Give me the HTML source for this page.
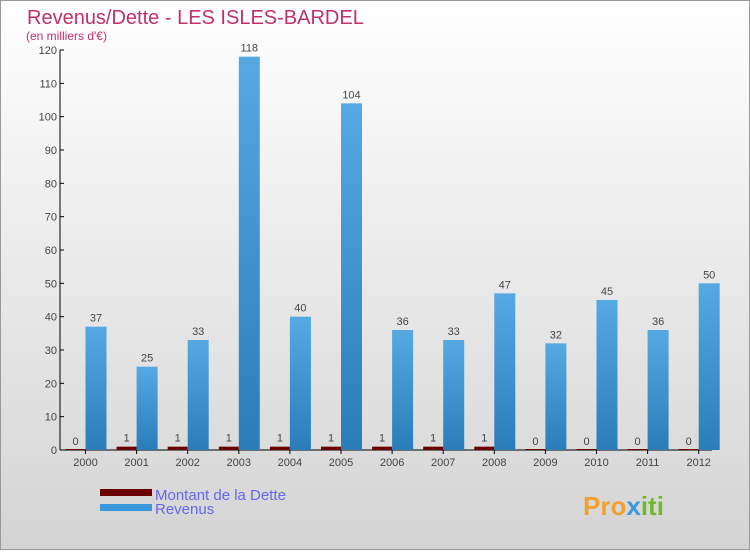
<!DOCTYPE html>
<html><head><meta charset="utf-8"><style>
body{margin:0}
#c{width:750px;height:550px;position:relative;font-family:"Liberation Sans",sans-serif}
</style></head><body>
<div id="c">
<svg id="s" width="750" height="550" xmlns="http://www.w3.org/2000/svg">
<defs>
<linearGradient id="bg" x1="0" y1="0" x2="0" y2="1"><stop offset="0" stop-color="#ffffff"/><stop offset="1" stop-color="#d4d4d4"/></linearGradient>
<linearGradient id="bl" x1="0" y1="0" x2="0" y2="1"><stop offset="0" stop-color="#56a9e3"/><stop offset="1" stop-color="#2a7db8"/></linearGradient>
</defs>
<rect x="0.5" y="0.5" width="749" height="549" fill="url(#bg)" stroke="#999"/>
<text x="27" y="24" font-size="20" fill="#c0306a">Revenus/Dette - LES ISLES-BARDEL</text>
<text x="26" y="40" font-size="12" fill="#c0306a">(en milliers d'€)</text>
<g id="g"></g>
<rect x="100" y="489" width="52" height="7" fill="#6b0000"/>
<rect x="100" y="504" width="52" height="7" fill="#3a98dc"/>
<text x="155" y="500" font-size="15" fill="#6666ee">Montant de la Dette</text>
<text x="155" y="514" font-size="15" fill="#6666ee">Revenus</text>
<text x="583" y="515" font-size="26" font-weight="bold" fill="#f0a030">Pro<tspan fill="#3a98dc">x</tspan><tspan fill="#70b830">iti</tspan></text>
</svg></div>
<script>
const years=["2000","2001","2002","2003","2004","2005","2006","2007","2008","2009","2010","2011","2012"];
const dette=[0,1,1,1,1,1,1,1,1,0,0,0,0];
const revenus=[37,25,33,118,40,104,36,33,47,32,45,36,50];
const yTicks=[0,10,20,30,40,50,60,70,80,90,100,110,120];
const NS="http://www.w3.org/2000/svg";
const g=document.getElementById('g');
const y=v=>450-v*400/120;
const x=i=>85.5+i*51.1;
function mk(t,a){const e=document.createElementNS(NS,t);for(const k in a)e.setAttribute(k,a[k]);g.appendChild(e);return e;}
let ax=mk('line',{x1:60,y1:50,x2:60,y2:450,stroke:'#000'});


let bx=mk('line',{x1:60,y1:450,x2:712,y2:450,stroke:'#000'});


yTicks.forEach(v=>{
 let l=mk('line',{x1:60,y1:y(v),x2:64,y2:y(v),stroke:'#000'});
 
 
 let t=mk('text',{x:57,y:y(v)+4,'font-size':11,fill:'#444','text-anchor':'end'});t.textContent=v;
 
 
});
years.forEach((yr,i)=>{
 const c=x(i);
 let tk=mk('line',{x1:c,y1:450,x2:c,y2:454,stroke:'#000'});
 
 
 let t=mk('text',{x:c,y:466,'font-size':11,fill:'#444','text-anchor':'middle'});t.textContent=yr;
 
 
 const dh=Math.max(450-y(dette[i]),1);
 let r=mk('rect',{x:c-20,y:450-dh,width:20,height:dh,fill:'#6b0000'});
 
 
 let dl=mk('text',{x:c-10,y:y(dette[i])-5,'font-size':11,fill:'#444','text-anchor':'middle'});dl.textContent=dette[i];
 
 
 let b=mk('rect',{x:c,y:y(revenus[i]),width:21,height:450-y(revenus[i]),fill:'url(#bl)'});
 
 
 let bl=mk('text',{x:c+10.5,y:y(revenus[i])-5,'font-size':11,fill:'#444','text-anchor':'middle'});bl.textContent=revenus[i];
 
 
});
</script>
</body></html>
